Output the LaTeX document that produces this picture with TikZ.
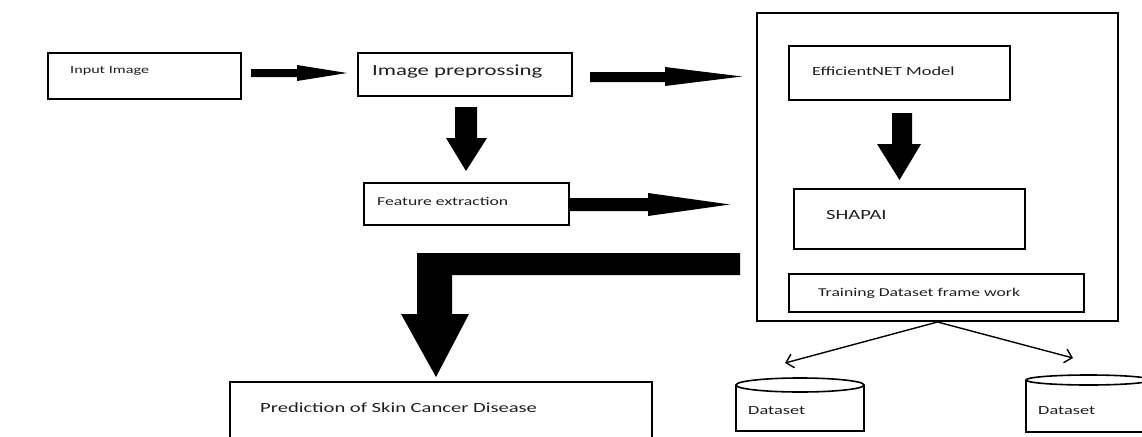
\documentclass[tikz,border=0pt]{standalone}
\usepackage{fontspec}
\setmainfont{Carlito}[FakeStretch=1.47]
\usetikzlibrary{arrows.meta,calc}
\begin{document}
\begin{tikzpicture}[x=1pt,y=-1pt,
  box/.style={draw=black, line width=2pt, fill=none, anchor=north west, inner sep=0pt},
  lbl/.style={anchor=base west, inner sep=0pt, text=black!88},
  blk/.style={fill=black, draw=none},
  thin/.style={draw=black, line width=1.4pt, -{Straight Barb[length=7pt,width=14pt,line width=1.4pt]}},
  cyl/.style={draw=black, line width=1.6pt}]
\useasboundingbox (0,0) rectangle (1142,436);
\clip (0,0) rectangle (1142,436);
\fill[white] (0,0) rectangle (1142,436);

% boxes
\node[box, minimum width=193pt, minimum height=46pt] (inp) at (47,52) {};
\node[box, minimum width=214pt, minimum height=43pt] (pre) at (357,52) {};
\node[box, minimum width=205pt, minimum height=42pt] (fea) at (363,182) {};
\node[box, minimum width=361pt, minimum height=308pt] (cont) at (756,12) {};
\node[box, minimum width=221pt, minimum height=54pt] (eff) at (788,45) {};
\node[box, minimum width=231pt, minimum height=60pt] (sha) at (793,188) {};
\node[box, minimum width=295pt, minimum height=38pt] (trn) at (788,273) {};
\node[box, minimum width=422pt, minimum height=90pt] (pred) at (229,381) {};

% texts
\node[lbl, font=\fontsize{11}{13}\selectfont] (tinp) at (70,73.5) {Input Image};
\node[lbl, font=\fontsize{15.5}{18}\selectfont] (tpre) at (372,75) {Image preprossing};
\node[lbl, font=\fontsize{12}{14}\selectfont] (tfea) at (377,205) {Feature extraction};
\node[lbl, font=\fontsize{12.5}{14}\selectfont] (teff) at (812,75) {EfficientNET Model};
\node[lbl, font=\fontsize{14}{16}\selectfont] (tsha) at (826,219) {SHAPAI};
\node[lbl, font=\fontsize{12}{14}\selectfont] (ttrn) at (818,296) {Training Dataset frame work};
\node[lbl, font=\fontsize{14}{16}\selectfont] (tpred) at (260,412) {Prediction of Skin Cancer Disease};

% cylinders
\draw[cyl] (800,385) ellipse [x radius=64pt, y radius=7pt];
\draw[cyl] (736,385) -- (736,431) -- (864,431) -- (864,385);
\node[lbl, font=\fontsize{12.5}{14}\selectfont] (ds1) at (748,414) {Dataset};
\draw[cyl] (1088.5,380) ellipse [x radius=62.5pt, y radius=5pt];
\draw[cyl] (1026,380) -- (1026,432) -- (1151,432) -- (1151,380);
\node[lbl, font=\fontsize{12.5}{14}\selectfont] (ds2) at (1038,414) {Dataset};

% block arrows
\fill[blk] (251,69) -- (297,69) -- (297,65) -- (347,73) -- (297,81) -- (297,77) -- (251,77) -- cycle;
\fill[blk] (590,72) -- (665,72) -- (665,67) -- (742,76.5) -- (665,86) -- (665,82) -- (590,82) -- cycle;
\fill[blk] (568,198) -- (648,198) -- (648,193) -- (730,204.5) -- (648,216) -- (648,211) -- (568,211) -- cycle;
\fill[blk] (455,107) -- (477,107) -- (477,138) -- (487,138) -- (466,171) -- (446,138) -- (455,138) -- cycle;
\fill[blk] (892,113) -- (912,113) -- (912,144) -- (921,144) -- (899.5,180) -- (877,144) -- (892,144) -- cycle;
\fill[blk] (740,253) -- (417,253) -- (417,314) -- (401,314) -- (436,377) -- (469,314) -- (452,314) -- (452,275) -- (740,275) -- cycle;

% thin arrows
\coordinate (c1) at (785,363);
\coordinate (c2) at (1073,358);
\draw[thin] (cont.south) -- (c1);
\draw[thin] (cont.south) -- (c2);
\end{tikzpicture}
\end{document}
